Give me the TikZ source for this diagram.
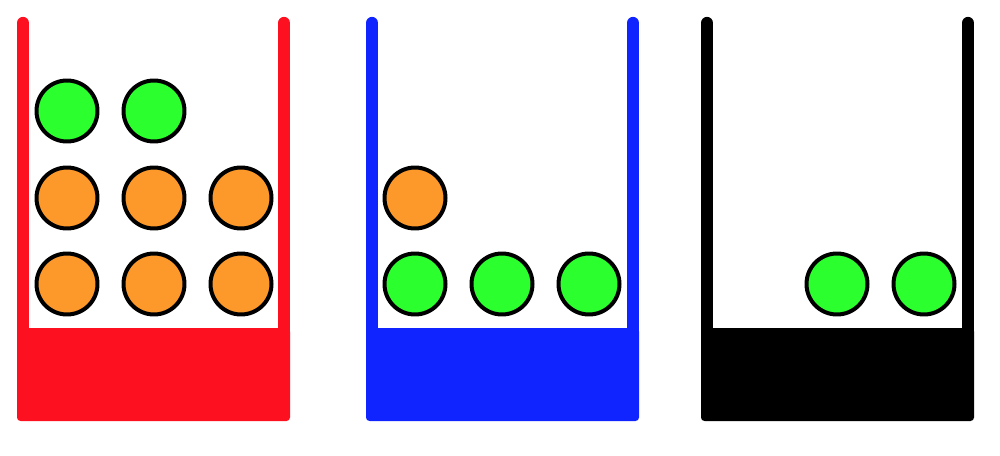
\documentclass[tikz,border=0pt]{standalone}
\usepackage{xcolor}
\definecolor{cred}{RGB}{253,16,32}
\definecolor{cblue}{RGB}{16,36,255}
\definecolor{cgreen}{RGB}{44,255,46}
\definecolor{corange}{RGB}{253,152,42}
\tikzset{
  ball/.style={circle, draw=black, line width=0.08cm, minimum size=1.22cm, inner sep=0pt},
  gball/.style={ball, fill=cgreen},
  oball/.style={ball, fill=corange},
  wall/.style={line width=0.245cm, line cap=round}
}

\begin{document}
\begin{tikzpicture}[x=0.02cm,y=-0.02cm]
  \useasboundingbox (0,0) rectangle (1000,456);
  % Three containers: thick base and two walls
  \foreach \x/\c in {17/cred, 366/cblue, 701/black} {
    \fill[\c, rounded corners=2pt] (\x,328) rectangle ++(273,93);
    \draw[wall, \c] (\x+6,23) -- (\x+6,330);
    \draw[wall, \c] (\x+267,23) -- (\x+267,330);
  }
  % Red container: two green over six orange
  \node[gball] (r1) at (67,111) {};
  \node[gball] (r2) at (154,111) {};
  \node[oball] (r3) at (67,198) {};
  \node[oball] (r4) at (154,198) {};
  \node[oball] (r5) at (241,198) {};
  \node[oball] (r6) at (67,284) {};
  \node[oball] (r7) at (154,284) {};
  \node[oball] (r8) at (241,284) {};
  % Blue container: one orange over three green
  \node[oball] (b1) at (415,198) {};
  \node[gball] (b2) at (415,284) {};
  \node[gball] (b3) at (502,284) {};
  \node[gball] (b4) at (589,284) {};
  % Black container: two green
  \node[gball] (k1) at (837,284) {};
  \node[gball] (k2) at (924,284) {};
\end{tikzpicture}
\end{document}
